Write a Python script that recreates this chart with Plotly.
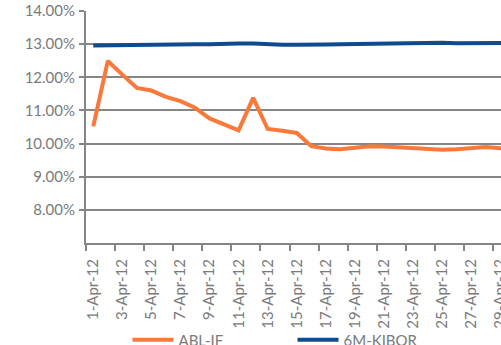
import plotly.graph_objects as go

dates = [f"{d}-Apr-12" for d in range(1, 31)]
abl_if = [10.52, 12.49, 12.08, 11.68, 11.60, 11.41, 11.28, 11.08, 10.76, 10.58,
          10.40, 11.38, 10.44, 10.39, 10.32, 9.92, 9.85, 9.83, 9.86, 9.92,
          9.91, 9.89, 9.87, 9.82, 9.81, 9.83, 9.88, 9.90, 9.86, 9.86]
kibor = [12.96, 12.97, 12.98, 12.98, 12.99, 13.00, 13.00, 13.00, 13.00, 13.02,
         13.02, 13.02, 12.99, 12.98, 12.98, 13.00, 12.99, 13.00, 13.01, 13.01,
         13.01, 13.01, 13.03, 13.04, 13.04, 13.03, 13.04, 13.04, 13.04, 13.04]
y_ticks = [8, 9, 10, 11, 12, 13, 14]

xpos = list(range(1, len(dates) + 1))
label_pos = xpos[::2]
label_txt = dates[::2]
boundaries = [p - 0.5 for p in label_pos]

GRAY = "#868686"
TXT = "#7a7a7a"
FONT = "Lato"

fig = go.Figure()
fig.add_trace(go.Scatter(x=xpos, y=abl_if, mode="lines", name="ABL-IF",
                         line=dict(color="#F8793A", width=4)))
fig.add_trace(go.Scatter(x=xpos, y=kibor, mode="lines", name="6M-KIBOR",
                         line=dict(color="#0E4C8E", width=4)))

fig.update_layout(
    width=501, height=345,
    margin=dict(l=86, r=0, t=11, b=102, autoexpand=False),
    paper_bgcolor="white", plot_bgcolor="white",
    font=dict(family=FONT, size=15, color=TXT),
    showlegend=True,
    legend=dict(orientation="h", x=0.1, xanchor="left", y=-0.418, yanchor="middle",
                font=dict(family=FONT, size=15, color=TXT),
                itemwidth=41,
                entrywidth=109, entrywidthmode="pixels", bgcolor="rgba(0,0,0,0)"),
    xaxis=dict(
        range=[0.5, 29.05],
        tickmode="array", tickvals=label_pos, ticktext=label_txt,
        tickangle=-90, ticks="", ticklabelstandoff=8,
        ticklabeloverflow="allow",
        showgrid=False, zeroline=False,
        showline=True, linecolor=GRAY, linewidth=2,
        tickfont=dict(family=FONT, size=15, color=TXT),
        minor=dict(tickmode="array", tickvals=boundaries, ticks="outside",
                   ticklen=6, tickwidth=2, tickcolor=GRAY, showgrid=False),
    ),
    yaxis=dict(
        range=[7, 14],
        tickmode="array", tickvals=y_ticks,
        ticktext=[f"{v:.2f}%" for v in y_ticks],
        ticks="outside", ticklen=5, tickwidth=2, tickcolor=GRAY,
        showgrid=True, gridcolor=GRAY, gridwidth=2,
        zeroline=False, showline=True, linecolor=GRAY, linewidth=2,
        tickfont=dict(family=FONT, size=15, color=TXT),
        ticklabelstandoff=1,
    ),
)

fig.write_html("out.html")
